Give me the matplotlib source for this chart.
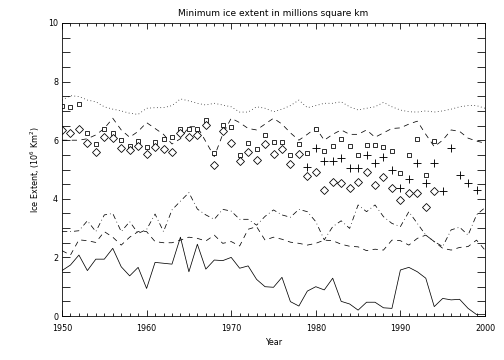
import numpy as np
import matplotlib
matplotlib.use("Agg")
import matplotlib.pyplot as plt
from matplotlib.ticker import MultipleLocator

years = np.arange(1950, 2001)

# top dotted series
dotted_top = [7.37, 7.52, 7.49, 7.37, 7.31, 7.14, 7.06, 7.00, 6.92, 6.88,
              7.09, 7.11, 7.11, 7.18, 7.41, 7.34, 7.26, 7.20, 7.26, 7.20,
              7.14, 6.96, 6.96, 7.14, 7.09, 6.97, 7.06, 7.18, 7.37, 7.11,
              7.18, 7.26, 7.26, 7.31, 7.14, 7.03, 7.09, 7.14, 7.29, 7.14,
              7.03, 6.97, 6.96, 7.00, 6.96, 7.00, 7.06, 7.14, 7.18, 7.18,
              7.09]

# upper dashed series
dashed_top = [6.00, 6.00, 6.00, 6.05, 6.18, 6.40, 6.75, 6.35, 6.10, 6.30,
              6.60, 6.40, 6.20, 5.87, 6.05, 6.46, 6.46, 5.95, 5.44, 6.20,
              6.75, 6.60, 6.40, 6.35, 6.55, 6.75, 6.55, 6.25, 6.00, 6.20,
              6.42, 6.00, 6.20, 6.35, 6.20, 6.20, 6.35, 6.10, 6.25, 6.40,
              6.42, 6.55, 6.65, 6.20, 5.78, 6.00, 6.35, 6.30, 6.07, 5.97,
              5.90]

# squares 1950-1994
sq_years = np.arange(1950, 1995)
squares = [7.17, 7.12, 7.22, 6.23, 5.86, 6.38, 6.26, 6.00, 5.80, 5.97,
           5.78, 5.95, 6.03, 6.12, 6.38, 6.38, 6.37, 6.69, 5.55, 6.52,
           6.46, 5.49, 5.92, 5.71, 6.19, 5.93, 5.94, 5.49, 5.88, 5.58,
           6.38, 5.63, 5.80, 6.05, 5.81, 5.49, 5.84, 5.85, 5.78, 5.63,
           4.89, 5.49, 6.05, 4.80, 5.97]

# diamonds 1950-1994
dia_years = np.arange(1950, 1995)
diamonds = [6.35, 6.26, 6.37, 5.89, 5.61, 6.12, 6.06, 5.72, 5.67, 5.80,
            5.52, 5.76, 5.70, 5.61, 6.23, 6.10, 6.18, 6.53, 5.15, 6.30,
            5.92, 5.30, 5.60, 5.32, 5.87, 5.52, 5.69, 5.19, 5.52, 4.79,
            4.93, 4.30, 4.58, 4.53, 4.36, 4.58, 4.91, 4.47, 4.74, 4.36,
            3.96, 4.20, 4.20, 3.73, 4.28]

# plus signs 1979-1999
plus_years = np.arange(1979, 2000)
pluses = [5.10, 5.73, 5.30, 5.30, 5.38, 5.06, 5.06, 5.49, 5.22, 5.42,
          4.97, 4.38, 4.66, 5.22, 4.53, 5.22, 4.28, 5.72, 4.81, 4.54,
          4.30]

# lower dash-dot series
dashdot_low = [2.88, 2.88, 2.91, 3.25, 2.88, 3.45, 3.50, 2.88, 3.22, 2.82,
               2.95, 3.48, 2.88, 3.62, 3.92, 4.21, 3.65, 3.45, 3.30, 3.64,
               3.58, 3.30, 3.30, 3.10, 3.40, 3.62, 3.45, 3.37, 3.64, 3.56,
               3.22, 2.60, 3.05, 3.25, 2.99, 3.79, 3.56, 3.79, 3.39, 3.16,
               3.05, 3.56, 3.16, 2.76, 2.54, 2.37, 2.94, 3.03, 2.76, 3.45,
               3.70]

# lower dashed series
dashed_low = [2.23, 2.08, 2.60, 2.57, 2.51, 2.88, 2.69, 2.42, 2.69, 2.88,
              2.88, 2.54, 2.50, 2.50, 2.59, 2.69, 2.65, 2.56, 2.76, 2.48,
              2.54, 2.39, 2.96, 3.05, 2.59, 2.69, 2.62, 2.52, 2.48, 2.42,
              2.48, 2.59, 2.57, 2.45, 2.38, 2.36, 2.23, 2.28, 2.25, 2.59,
              2.57, 2.42, 2.65, 2.76, 2.54, 2.31, 2.25, 2.34, 2.37, 2.59,
              2.25]

# solid series
solid = [1.55, 1.74, 2.08, 1.55, 1.94, 1.94, 2.31, 1.68, 1.37, 1.66,
         0.94, 1.83, 1.80, 1.77, 2.69, 1.51, 2.45, 1.60, 1.91, 1.89,
         2.00, 1.63, 1.71, 1.25, 1.00, 0.98, 1.32, 0.49, 0.34, 0.85,
         1.00, 0.89, 1.29, 0.50, 0.41, 0.20, 0.47, 0.47, 0.28, 0.26,
         1.57, 1.66, 1.51, 1.29, 0.32, 0.60, 0.55, 0.57, 0.26, 0.05,
         0.05]

plt.rcParams["font.family"] = "DejaVu Sans"
plt.rcParams["font.size"] = 8

fig = plt.figure(figsize=(7, 5), dpi=72)
ax = fig.add_axes([62 / 504, 1 - 316 / 360, 423 / 504, 293 / 360])

lw = 0.75
ax.plot(years, dotted_top, color="black", lw=lw, dashes=(1, 3.5))
ax.plot(years, dashed_top, color="black", lw=lw, dashes=(7, 6))
ax.plot(sq_years, squares, ls="none", marker="s", ms=4, mfc="white",
        mec="black", mew=0.8)
ax.plot(dia_years, diamonds, ls="none", marker="D", ms=5, mfc="white",
        mec="black", mew=0.8)
ax.plot(plus_years, pluses, ls="none", marker="+", ms=8, color="black",
        mew=0.9)
ax.plot(years, dashdot_low, color="black", lw=lw, dashes=(7, 4, 1, 4))
ax.plot(years, dashed_low, color="black", lw=lw, dashes=(7, 6))
ax.plot(years, solid, color="black", lw=lw)

ax.set_xlim(1950, 2000)
ax.set_ylim(0, 10)
ax.xaxis.set_major_locator(MultipleLocator(10))
ax.xaxis.set_minor_locator(MultipleLocator(1))
ax.yaxis.set_major_locator(MultipleLocator(2))
ax.yaxis.set_minor_locator(MultipleLocator(0.5))
ax.tick_params(which="both", direction="in", top=True, right=True,
               width=0.8, labelsize=8)
ax.tick_params(which="major", axis="x", length=6, pad=8)
ax.tick_params(which="minor", axis="x", length=3)
ax.tick_params(which="major", axis="y", length=8, pad=4)
ax.tick_params(which="minor", axis="y", length=8)
for s in ax.spines.values():
    s.set_linewidth(0.8)

ax.set_title("Minimum ice extent in millions square km", fontsize=9, pad=7)
ax.set_xlabel("Year", fontsize=8, labelpad=5)
ax.set_ylabel(r"Ice Extent, (10$^6$ Km$^2$)", fontsize=8, labelpad=6)

fig.savefig("out.png", dpi=72)
